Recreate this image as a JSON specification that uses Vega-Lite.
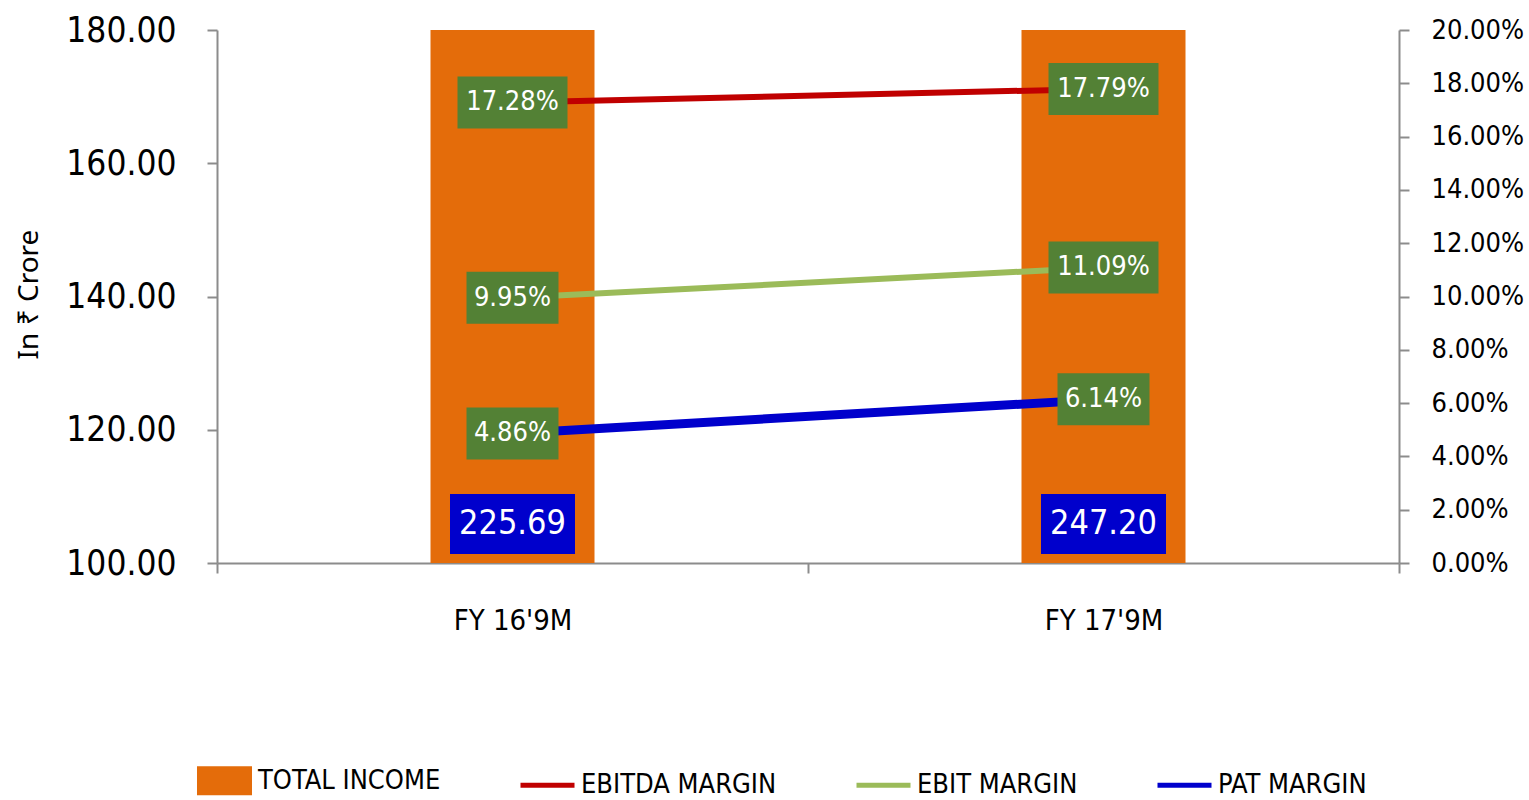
{
  "$schema": "https://vega.github.io/schema/vega-lite/v6.json",
  "autosize": {"type": "none"},
  "padding": {"left": 217, "top": 30, "right": 130, "bottom": 237},
  "width": 1182,
  "height": 533,
  "background": "white",
  "config": {
    "view": {"stroke": null},
    "font": "DejaVu Sans Condensed, sans-serif",
    "axis": {
      "grid": false,
      "domainColor": "#8c8c8c",
      "tickColor": "#8c8c8c",
      "domainWidth": 2,
      "tickWidth": 2,
      "tickSize": 10,
      "labelColor": "#000000",
      "labelFont": "DejaVu Sans Condensed, sans-serif"
    }
  },
  "data": {
    "values": [
      {"period": "FY 16'9M", "income": 225.69, "EBITDA MARGIN": 0.1728, "EBIT MARGIN": 0.0995, "PAT MARGIN": 0.0486},
      {"period": "FY 17'9M", "income": 247.20, "EBITDA MARGIN": 0.1779, "EBIT MARGIN": 0.1109, "PAT MARGIN": 0.0614}
    ]
  },
  "encoding": {
    "x": {
      "field": "period",
      "type": "nominal",
      "sort": null,
      "scale": {"paddingInner": 0, "paddingOuter": 0},
      "axis": {
        "title": null,
        "labelAngle": 0,
        "labelFontSize": 29,
        "labelPadding": 33,
        "tickBand": "extent"
      }
    }
  },
  "layer": [
    {
      "layer": [
        {
          "mark": {"type": "bar", "width": 164, "clip": true},
          "encoding": {
            "y": {
              "field": "income",
              "type": "quantitative",
              "scale": {"domain": [100, 180], "zero": false, "nice": false},
              "axis": {
                "title": "In ₹ Crore",
                "values": [100, 120, 140, 160, 180],
                "format": ".2f",
                "labelFontSize": 35,
                "labelPadding": 31,
                "titleFont": "Noto Sans",
                "titleFontSize": 28,
                "titleFontWeight": "normal",
                "titleColor": "#000000",
                "titleX": -180,
                "titleY": 264,
                "titleBaseline": "alphabetic"
              }
            },
            "color": {
              "datum": "TOTAL INCOME",
              "type": "nominal",
              "scale": {
                "domain": ["TOTAL INCOME", "EBITDA MARGIN", "EBIT MARGIN", "PAT MARGIN"],
                "range": ["#E46C0A", "#C00000", "#9BBB59", "#0000CC"]
              },
              "legend": {
                "orient": "none",
                "legendX": -22,
                "legendY": 721,
                "direction": "horizontal",
                "title": null,
                "labelFontSize": 27,
                "labelFont": "DejaVu Sans Condensed, sans-serif",
                "labelColor": "#000000",
                "symbolSize": 2916,
                "symbolStrokeWidth": 5,
                "labelOffset": 4,
                "columnPadding": 69,
                "labelLimit": 400,
                "encode": {
                  "symbols": {
                    "update": {
                      "shape": {"signal": "datum.value === 'TOTAL INCOME' ? 'M-0.926,-0.444H0.926V0.444H-0.926Z' : 'M-1,0H1'"},
                      "fill": {"signal": "datum.value === 'TOTAL INCOME' ? '#E46C0A' : 'transparent'"},
                      "stroke": {"signal": "datum.value === 'TOTAL INCOME' ? 'transparent' : (datum.value === 'EBITDA MARGIN' ? '#C00000' : (datum.value === 'EBIT MARGIN' ? '#9BBB59' : '#0000CC'))"},
                      "strokeWidth": {"value": 5},
                      "opacity": {"value": 1}
                    }
                  }
                }
              }
            }
          }
        },
        {
          "mark": {"type": "bar", "width": 125, "color": "#0000CC"},
          "encoding": {
            "y": {"datum": 110.36, "type": "quantitative"},
            "y2": {"datum": 101.35}
          }
        },
        {
          "mark": {"type": "text", "color": "white", "fontSize": 34, "baseline": "middle"},
          "encoding": {
            "y": {"datum": 105.85, "type": "quantitative"},
            "text": {"field": "income", "type": "quantitative", "format": ".2f"}
          }
        }
      ]
    },
    {
      "transform": [
        {"fold": ["EBITDA MARGIN", "EBIT MARGIN", "PAT MARGIN"], "as": ["series", "value"]}
      ],
      "encoding": {
        "y": {
          "field": "value",
          "type": "quantitative",
          "scale": {"domain": [0, 0.2], "nice": false, "zero": false},
          "axis": {
            "orient": "right",
            "title": null,
            "values": [0, 0.02, 0.04, 0.06, 0.08, 0.1, 0.12, 0.14, 0.16, 0.18, 0.2],
            "format": ".2%",
            "labelFontSize": 27,
            "labelPadding": 22
          }
        }
      },
      "layer": [
        {
          "mark": {"type": "line"},
          "encoding": {
            "color": {
              "field": "series",
              "type": "nominal",
              "legend": {
                "orient": "none",
                "legendX": -22,
                "legendY": 721,
                "direction": "horizontal",
                "title": null
              }
            },
            "strokeWidth": {
              "field": "series",
              "type": "nominal",
              "scale": {"type": "ordinal", "domain": ["EBITDA MARGIN", "EBIT MARGIN", "PAT MARGIN"], "range": [6, 6, 9]},
              "legend": null
            }
          }
        },
        {
          "mark": {
            "type": "point",
            "filled": true,
            "opacity": 1,
            "size": 4,
            "strokeWidth": 0,
            "color": "#538135",
            "shape": {"expr": "'M' + (-(length(format(datum.value,'.2%'))*9+1)) + ',-26H' + (length(format(datum.value,'.2%'))*9+1) + 'V26H' + (-(length(format(datum.value,'.2%'))*9+1)) + 'Z'"}
          }
        },
        {
          "mark": {"type": "text", "color": "white", "fontSize": 27, "baseline": "middle"},
          "encoding": {
            "text": {"field": "value", "type": "quantitative", "format": ".2%"}
          }
        }
      ]
    }
  ],
  "resolve": {"scale": {"y": "independent"}}
}
